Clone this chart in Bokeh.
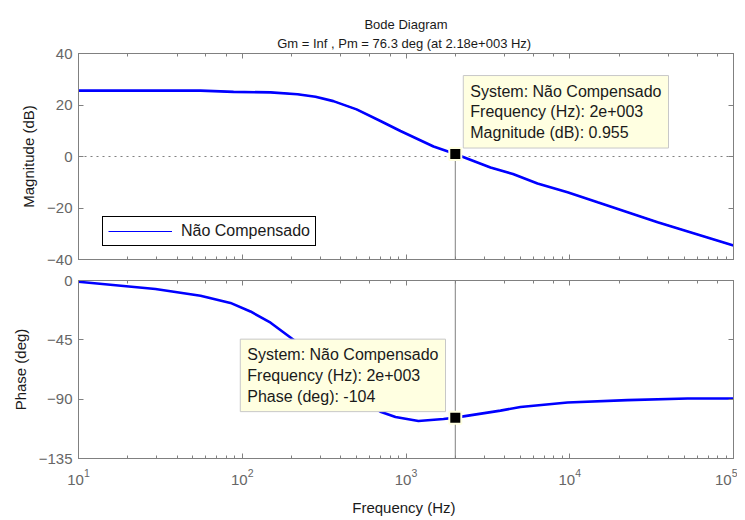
from bokeh.plotting import figure
from bokeh.layouts import column
from bokeh.models import (Range1d, LogAxis, LinearAxis, FixedTicker, LogTicker, Span,
                          Label, Legend, LegendItem, Title)
from bokeh.embed import file_html
from bokeh.resources import INLINE

# ---------------- data ----------------
freq_mag = [10, 55.6, 88.5, 148.9, 217, 280, 360, 499, 698, 925, 1473, 2000, 3281, 4500,
            6355, 9690, 14800, 34400, 100000]
mag_db = [25.6, 25.6, 25.1, 24.9, 24.2, 23.2, 21.5, 18.3, 13.8, 9.9, 3.9, 0.955, -4.3, -6.8,
          -10.5, -13.9, -17.8, -25.5, -34.6]

freq_ph = [10, 29.5, 55.6, 84.7, 112.2, 148.9, 205.6, 300.6, 458.5, 566, 698, 863, 1191,
           1694, 2000, 3775, 5000, 9690, 22500, 52400, 100000]
phase_deg = [-1, -6.5, -11.5, -17, -23.5, -32, -45, -62, -82, -92, -99.5, -103.5, -106.5,
             -105, -104, -98.7, -96, -92.5, -90.7, -89.5, -89.5]

mag_ticks = [-40, -20, 0, 20, 40]
phase_ticks = [-135, -90, -45, 0]
freq_limits = [10, 100000]

system_name = "Não Compensado"
tip_freq = 2000
tip_freq_label = "2e+003"
tip_mag = 0.955
tip_phase = -104

title_main = "Bode Diagram"
title_sub = "Gm = Inf ,  Pm = 76.3 deg (at 2.18e+003 Hz)"

# ---------------- style ----------------
BLUE = "#0000FF"
GRAY = "#808080"
TICKCOL = "#666666"
FONT = "Liberation Sans"
TIPFILL = "#FFFFE1"


def style_axis(ax, labels=True):
    ax.axis_line_color = GRAY
    ax.major_tick_line_color = GRAY
    ax.minor_tick_line_color = GRAY
    ax.major_tick_in = 5
    ax.major_tick_out = 0
    ax.minor_tick_in = 3
    ax.minor_tick_out = 0
    if labels:
        ax.major_label_text_font = FONT
        ax.major_label_text_font_size = "15px"
        ax.major_label_text_color = TICKCOL
        ax.major_label_standoff = 6
    else:
        ax.major_label_text_font_size = "0px"
        ax.major_label_text_color = None
        ax.major_label_standoff = 0


def base_fig(height, y_range, min_top, min_bottom):
    p = figure(width=737, height=height, x_axis_type="log",
               x_range=Range1d(freq_limits[0], freq_limits[1]), y_range=y_range,
               output_backend="svg", toolbar_location=None, title=None,
               min_border_left=78, min_border_right=4,
               min_border_top=min_top, min_border_bottom=min_bottom)
    p.grid.visible = False
    p.outline_line_color = GRAY
    p.background_fill_color = "white"
    p.border_fill_color = "white"
    return p


def style_ylabel(ax, text):
    ax.axis_label = text
    ax.axis_label_text_font = FONT
    ax.axis_label_text_font_size = "15px"
    ax.axis_label_text_font_style = "normal"
    ax.axis_label_text_color = "#1a1a1a"
    ax.axis_label_standoff = 7


# ---------------- magnitude ----------------
p1 = base_fig(268, Range1d(mag_ticks[0], mag_ticks[-1]), 53, 9)
style_axis(p1.xaxis[0], labels=False)
ly = p1.yaxis[0]
ly.ticker = FixedTicker(ticks=mag_ticks)
style_axis(ly)
ly.minor_tick_line_color = None
style_ylabel(ly, "Magnitude (dB)")

top_ax = LogAxis(ticker=LogTicker())
style_axis(top_ax, labels=False)
top_ax.major_label_text_font_size = "7px"
top_ax.major_label_text_color = None
top_ax.major_label_standoff = 0
p1.add_layout(top_ax, "above")
r_ax = LinearAxis(ticker=FixedTicker(ticks=mag_ticks))
style_axis(r_ax, labels=False)
r_ax.minor_tick_line_color = None
p1.add_layout(r_ax, "right")

p1.add_layout(Title(text=title_sub, align="center", text_font=FONT, text_font_size="13px",
                    text_font_style="normal", text_color="#1a1a1a", standoff=5), "above")
p1.add_layout(Title(text=title_main, align="center", text_font=FONT, text_font_size="13px",
                    text_font_style="normal", text_color="#1a1a1a", standoff=0), "above")

p1.add_layout(Span(location=0, dimension="width", line_color=GRAY, line_dash="dotted",
                   line_width=1, level="underlay"))
p1.segment(x0=[tip_freq], y0=[tip_mag], x1=[tip_freq], y1=[mag_ticks[0]],
           line_color=GRAY, line_width=1)
legend_line = p1.line(freq_mag, mag_db, line_color=BLUE, line_width=1.2)
p1.line(freq_mag, mag_db, line_color=BLUE, line_width=2.6)
p1.scatter([tip_freq], [tip_mag], marker="square", size=12, fill_color="black",
           line_color=TIPFILL, line_width=2)

leg = Legend(items=[LegendItem(label=system_name, renderers=[legend_line])], location=(24, 13),
             border_line_color="black", border_line_width=1, border_line_alpha=1,
             padding=5, margin=0, label_text_font=FONT, label_text_font_size="16px",
             label_text_color="#1a1a1a",
             glyph_width=64, glyph_height=16, label_height=16, label_standoff=9,
             background_fill_color="white", background_fill_alpha=1)
p1.add_layout(leg)

p1.add_layout(Label(x=tip_freq, y=tip_mag, x_offset=8, y_offset=6,
                    text=f"System: {system_name}\nFrequency (Hz): {tip_freq_label}\nMagnitude (dB): {tip_mag}",
                    text_font=FONT, text_font_size="16px", text_line_height=1.22,
                    text_color="#1a1a1a", background_fill_color=TIPFILL,
                    border_line_color="#C8C8C8", padding=7,
                    text_align="left", text_baseline="bottom"))

# ---------------- phase ----------------
p2 = base_fig(250, Range1d(phase_ticks[0], phase_ticks[-1]), 12, 57)
bx = p2.xaxis[0]
style_axis(bx)
bx.major_label_standoff = 10
bx.axis_label = "Frequency  (Hz)"
bx.axis_label_text_font = FONT
bx.axis_label_text_font_size = "15px"
bx.axis_label_text_font_style = "normal"
bx.axis_label_text_color = "#1a1a1a"
bx.axis_label_standoff = 11

ly2 = p2.yaxis[0]
ly2.ticker = FixedTicker(ticks=phase_ticks)
style_axis(ly2)
ly2.minor_tick_line_color = None
style_ylabel(ly2, "Phase (deg)")

top_ax2 = LogAxis(ticker=LogTicker())
style_axis(top_ax2, labels=False)
p2.add_layout(top_ax2, "above")
r_ax2 = LinearAxis(ticker=FixedTicker(ticks=phase_ticks))
style_axis(r_ax2, labels=False)
r_ax2.minor_tick_line_color = None
p2.add_layout(r_ax2, "right")

p2.add_layout(Span(location=tip_freq, dimension="height", line_color=GRAY, line_width=1,
                   level="underlay"))
p2.line(freq_ph, phase_deg, line_color=BLUE, line_width=2.6)
p2.scatter([tip_freq], [tip_phase], marker="square", size=12, fill_color="black",
           line_color=TIPFILL, line_width=2)
p2.add_layout(Label(x=tip_freq, y=tip_phase, x_offset=-215, y_offset=6,
                    text=f"System: {system_name}\nFrequency (Hz): {tip_freq_label}\nPhase (deg): {tip_phase}",
                    text_font=FONT, text_font_size="16px", text_line_height=1.22,
                    text_color="#1a1a1a", background_fill_color=TIPFILL,
                    border_line_color="#C8C8C8", padding=7,
                    text_align="left", text_baseline="bottom"))

layout = column(p1, p2, spacing=0)
open("out.html", "w").write(file_html(layout, INLINE))
